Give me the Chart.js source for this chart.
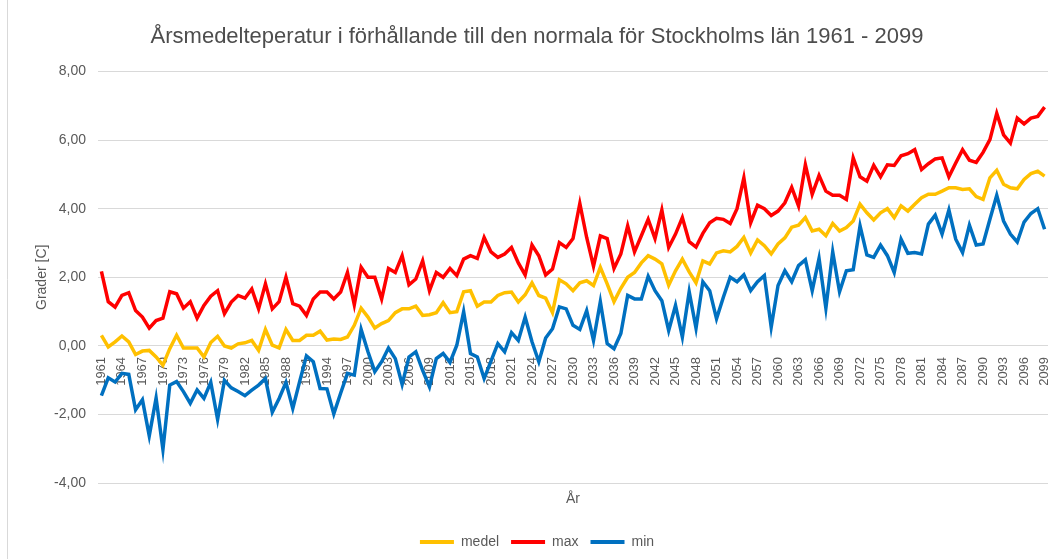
<!DOCTYPE html>
<html>
<head>
<meta charset="utf-8">
<script src="https://cdn.jsdelivr.net/npm/chart.js@4.4.0/dist/chart.umd.min.js"></script>
<style>
  html, body { margin: 0; padding: 0; background: #fff; }
  #wrap { width: 1053px; height: 559px; }
</style>
</head>
<body>
<div id="wrap"><canvas id="line-chart" width="1053" height="559"></canvas></div>
<script>
// years 1961 - 2099
const years = [];
for (let y = 1961; y <= 2099; y++) years.push(String(y));

// annual mean temperature relative to normal
const medel = [
  0.31, -0.03, 0.12, 0.29, 0.12, -0.25, -0.15, -0.13, -0.32, -0.56,   // 1961-1970
  -0.08, 0.31, -0.06, -0.06, -0.06, -0.32, 0.10, 0.28, 0.00, -0.06,   // 1971-1980
  0.06, 0.09, 0.16, -0.13, 0.48, 0.02, -0.06, 0.48, 0.16, 0.16,       // 1981-1990
  0.31, 0.31, 0.43, 0.17, 0.20, 0.19, 0.26, 0.60, 1.10, 0.84,         // 1991-2000
  0.52, 0.65, 0.74, 0.97, 1.08, 1.08, 1.16, 0.89, 0.91, 0.97,         // 2001-2010
  1.26, 0.97, 1.00, 1.58, 1.61, 1.16, 1.28, 1.28, 1.47, 1.55,         // 2011-2020
  1.57, 1.28, 1.49, 1.84, 1.47, 1.39, 0.97, 1.93, 1.81, 1.61,         // 2021-2030
  1.84, 1.90, 1.76, 2.29, 1.81, 1.29, 1.68, 2.00, 2.14, 2.42,         // 2031-2040
  2.63, 2.53, 2.39, 1.77, 2.19, 2.53, 2.16, 1.84, 2.48, 2.39,         // 2041-2050
  2.71, 2.77, 2.74, 2.90, 3.16, 2.71, 3.09, 2.92, 2.68, 2.97,         // 2051-2060
  3.15, 3.46, 3.52, 3.74, 3.35, 3.40, 3.21, 3.57, 3.35, 3.45,         // 2061-2070
  3.64, 4.13, 3.88, 3.67, 3.88, 4.00, 3.74, 4.08, 3.93, 4.13,         // 2071-2080
  4.32, 4.42, 4.42, 4.51, 4.61, 4.61, 4.56, 4.58, 4.35, 4.27,         // 2081-2090
  4.90, 5.12, 4.71, 4.61, 4.58, 4.85, 5.02, 5.09, 4.95                // 2091-2099
];

const max = [
  2.17, 1.29, 1.13, 1.47, 1.55, 1.03, 0.84, 0.52, 0.74, 0.81,
  1.58, 1.52, 1.10, 1.29, 0.81, 1.18, 1.45, 1.61, 0.94, 1.28,
  1.47, 1.39, 1.66, 1.08, 1.81, 1.08, 1.29, 2.00, 1.23, 1.16,
  0.89, 1.37, 1.57, 1.57, 1.37, 1.57, 2.14, 1.20, 2.29, 2.00,
  2.00, 1.37, 2.26, 2.14, 2.63, 1.78, 1.95, 2.48, 1.61, 2.14,
  2.00, 2.26, 2.05, 2.53, 2.63, 2.55, 3.16, 2.74, 2.58, 2.68,
  2.87, 2.42, 2.07, 2.94, 2.63, 2.07, 2.24, 3.01, 2.87, 3.13,
  4.15, 3.16, 2.32, 3.21, 3.13, 2.26, 2.68, 3.50, 2.74, 3.21,
  3.69, 3.13, 3.96, 2.87, 3.26, 3.74, 3.04, 2.88, 3.28, 3.59,
  3.72, 3.69, 3.57, 4.00, 4.90, 3.59, 4.10, 4.00, 3.80, 3.93,
  4.17, 4.62, 4.08, 5.28, 4.42, 4.97, 4.51, 4.39, 4.39, 4.27,
  5.48, 4.93, 4.80, 5.26, 4.93, 5.28, 5.26, 5.54, 5.60, 5.72,
  5.14, 5.31, 5.45, 5.48, 4.93, 5.33, 5.72, 5.41, 5.35, 5.64,
  6.01, 6.78, 6.15, 5.91, 6.64, 6.47, 6.64, 6.69, 6.96
];

const min = [
  -1.45, -0.93, -1.05, -0.80, -0.83, -1.86, -1.57, -2.62, -1.52, -3.02,
  -1.14, -1.04, -1.33, -1.67, -1.28, -1.53, -1.06, -2.14, -1.00, -1.22,
  -1.33, -1.45, -1.29, -1.14, -0.95, -1.93, -1.53, -1.06, -1.82, -1.04,
  -0.29, -0.46, -1.24, -1.25, -1.98, -1.38, -0.80, -0.85, 0.48, -0.17,
  -0.75, -0.46, -0.06, -0.37, -1.12, -0.32, -0.17, -0.71, -1.19, -0.37,
  -0.22, -0.48, 0.02, 1.00, -0.22, -0.32, -0.95, -0.44, 0.07, -0.17,
  0.39, 0.16, 0.84, 0.12, -0.46, 0.23, 0.50, 1.14, 1.08, 0.60,
  0.48, 1.03, 0.16, 1.29, 0.07, -0.08, 0.36, 1.47, 1.37, 1.37,
  2.03, 1.61, 1.32, 0.45, 1.18, 0.26, 1.58, 0.52, 1.87, 1.61,
  0.79, 1.42, 2.00, 1.87, 2.07, 1.61, 1.87, 2.05, 0.55, 1.76,
  2.19, 1.87, 2.34, 2.51, 1.61, 2.55, 1.10, 2.74, 1.58, 2.19,
  2.22, 3.50, 2.65, 2.58, 2.94, 2.63, 2.14, 3.11, 2.70, 2.72,
  2.68, 3.55, 3.81, 3.26, 3.96, 3.11, 2.72, 3.52, 2.94, 2.97,
  3.69, 4.39, 3.64, 3.26, 3.03, 3.61, 3.86, 4.00, 3.40
];

const textColor = '#595959';
Chart.defaults.font.family = "'Liberation Sans', Arial, sans-serif";

const data_line = {
  labels: years,
  datasets: [
    { label: 'medel', data: medel, borderColor: '#FFC000', backgroundColor: '#FFC000', order: 2 },
    { label: 'max', data: max, borderColor: '#FF0000', backgroundColor: '#FF0000', order: 1 },
    { label: 'min', data: min, borderColor: '#0070C0', backgroundColor: '#0070C0', order: 0 }
  ]
};

// thin frame line on the left, as in the Excel chart area
const frameLine = {
  id: 'frameLine',
  beforeDraw(chart) {
    const ctx = chart.ctx;
    ctx.save();
    ctx.strokeStyle = '#d9d9d9';
    ctx.lineWidth = 1;
    ctx.beginPath();
    ctx.moveTo(7.5, 0);
    ctx.lineTo(7.5, chart.height);
    ctx.stroke();
    ctx.restore();
  }
};

const config_line = {
  type: 'line',
  data: data_line,
  plugins: [frameLine],
  options: {
    responsive: false,
    animation: false,
    layout: { padding: { left: 26, right: 5, top: 0, bottom: 0 } },
    elements: {
      point: { radius: 0 },
      line: { tension: 0, borderWidth: 3.5, fill: false }
    },
    scales: {
      x: {
        position: { y: 0 },   // category axis crosses at 0 like in Excel
        offset: true,
        grid: { display: false, drawTicks: false },
        border: { display: false },
        ticks: {
          autoSkip: false,
          minRotation: 90,
          maxRotation: 90,
          padding: 11,
          color: textColor,
          font: { size: 13 },
          callback: function (val, idx) {
            return idx % 3 === 0 ? this.getLabelForValue(val) : '';
          }
        },
        afterFit: (s) => { s.paddingLeft = 0; s.paddingRight = 0; }
      },
      y: {
        min: -4,
        max: 8,
        grid: { color: '#d9d9d9', drawTicks: false },
        border: { display: false },
        ticks: {
          stepSize: 2,
          padding: 12,
          color: textColor,
          font: { size: 14 },
          callback: (v) => v.toFixed(2).replace('.', ',')
        },
        title: {
          display: true,
          text: 'Grader [C]',
          color: textColor,
          font: { size: 14 },
          padding: { top: 8, bottom: 0 }
        },
        afterFit: (s) => { s.width = 72; s.paddingTop = 0; s.paddingBottom = 0; }
      }
    },
    plugins: {
      title: {
        display: true,
        text: 'Årsmedelteperatur i förhållande till den normala för Stockholms län 1961 - 2099',
        color: '#4d4d4d',
        font: { size: 22, weight: 'normal' },
        padding: { top: 24, bottom: 21 }
      },
      subtitle: {
        display: true,
        position: 'bottom',
        fullSize: false,
        weight: 1500,
        text: 'År',
        color: textColor,
        font: { size: 14 },
        padding: { top: 8, bottom: 15 }
      },
      legend: {
        position: 'bottom',
        weight: 2000,
        labels: {
          boxWidth: 34,
          boxHeight: 4,
          padding: 12,
          color: textColor,
          font: { size: 14 },
          sort: (a, b) => a.datasetIndex - b.datasetIndex,
          generateLabels: (chart) =>
            Chart.defaults.plugins.legend.labels.generateLabels(chart).map(l => ({ ...l, lineWidth: 0 }))
        }
      },
      tooltip: { enabled: false }
    }
  }
};

const canvas_line = document.getElementById('line-chart');
const lineChart = new Chart(canvas_line, config_line);
</script>
</body>
</html>
